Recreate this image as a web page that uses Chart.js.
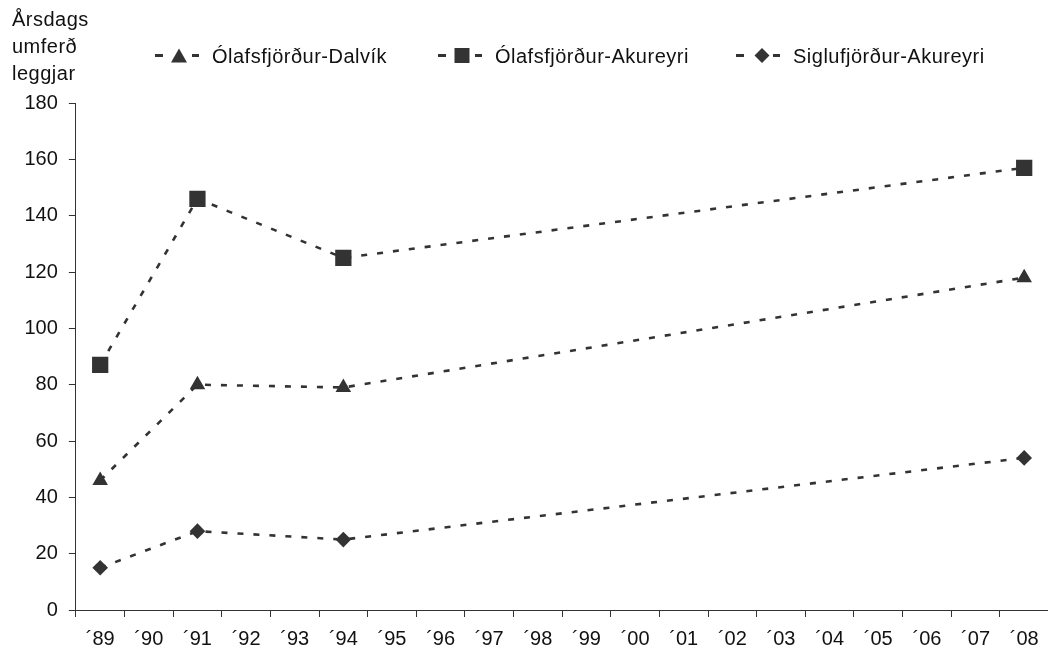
<!DOCTYPE html>
<html>
<head>
<meta charset="utf-8">
<script src="https://cdn.jsdelivr.net/npm/chart.js@4.4.1/dist/chart.umd.min.js"></script>
<style>
  html, body { margin:0; padding:0; background:#fff; overflow:hidden; width:1048px; height:650px; }
  #wrap { position:absolute; left:0; top:0; width:1060px; height:661px; }
  .txt { position:absolute; font-family:"Liberation Sans", Arial, sans-serif; font-size:20px; color:#111; letter-spacing:0.5px; white-space:nowrap; }
  #ytitle { left:12px; top:6px; line-height:27px; }
  .lg { position:absolute; top:45px; height:22px; }
  .lg svg { position:absolute; left:0; top:0; }
  .lg span { position:absolute; top:0; line-height:22px; }
</style>
</head>
<body>
<div id="wrap"><canvas id="c" width="1060" height="661"></canvas></div>
<div id="ytitle" class="txt">Årsdags<br>umferð<br>leggjar</div>
<div id="legend"></div>
<script>
const categories = ["´89","´90","´91","´92","´93","´94","´95","´96","´97","´98","´99","´00","´01","´02","´03","´04","´05","´06","´07","´08"];
const seriesNames = ["Ólafsfjörður-Dalvík","Ólafsfjörður-Akureyri","Siglufjörður-Akureyri"];
const dalvik   = [46, null, 80, null, null, 79, null,null,null,null,null,null,null,null,null,null,null,null,null, 118];
const akureyri = [87, null, 146, null, null, 125, null,null,null,null,null,null,null,null,null,null,null,null,null, 157];
const siglu    = [15, null, 28, null, null, 25, null,null,null,null,null,null,null,null,null,null,null,null,null, 54];
const yTicks = [0,20,40,60,80,100,120,140,160,180];

const markColor = '#333333';
const styles = [
  {pointStyle:'triangle', radius:9},
  {pointStyle:'rect', radius:11.5},
  {pointStyle:'rectRot', radius:7.8}
];
const seriesData = [dalvik, akureyri, siglu];

const datasets = seriesData.map((d,i)=>({
  label: seriesNames[i],
  data: d,
  spanGaps: true,
  borderColor: markColor,
  backgroundColor: markColor,
  borderWidth: 2.6,
  borderDash: [6, 10],
  pointStyle: styles[i].pointStyle,
  pointRadius: styles[i].radius,
  pointHoverRadius: styles[i].radius,
  pointBackgroundColor: markColor,
  pointBorderColor: markColor,
  pointBorderWidth: 0,
  tension: 0
}));

new Chart(document.getElementById('c'), {
  type: 'line',
  data: { labels: categories, datasets },
  options: {
    responsive: false,
    animation: false,
    events: [],
    layout: { padding: { top: 103, left: 13.5, right: 5, bottom: 0 } },
    plugins: { legend: { display: false }, tooltip: { enabled: false } },
    scales: {
      x: {
        offset: true,
        grid: { display: true, offset: true, drawOnChartArea: false, drawTicks: true, tickLength: 7, color: '#333', lineWidth: 1 },
        border: { display: true, color: '#333', width: 1 },
        ticks: { color: '#111', padding: 12, maxRotation: 0, autoSkip: false,
          font: { family: '"Liberation Sans", Arial, sans-serif', size: 20, lineHeight: 1.0 } }
      },
      y: {
        min: 0, max: 180,
        afterBuildTicks: (s) => { s.ticks = yTicks.map(v => ({ value: v })); },
        grid: { display: true, drawOnChartArea: false, drawTicks: true, tickLength: 7, color: '#333', lineWidth: 1 },
        border: { display: true, color: '#333', width: 1 },
        ticks: { color: '#111', padding: 11,
          font: { family: '"Liberation Sans", Arial, sans-serif', size: 20, lineHeight: 1.0 } }
      }
    }
  }
});

// legend (HTML)
const legendX = [155, 438, 736];
const legendHtml = seriesNames.map((name, i) => {
  let mk = '';
  if (i === 0) mk = '<polygon points="24,3.5 32,17.5 16,17.5" fill="#333"/>';
  if (i === 1) mk = '<rect x="16.5" y="3" width="15" height="15" fill="#333"/>';
  if (i === 2) mk = '<polygon points="26,3 33.5,10.5 26,18 18.5,10.5" fill="#333"/>';
  return `<div class="lg" style="left:${legendX[i]}px;width:400px">
    <svg width="46" height="22" viewBox="0 0 46 22">
      <rect x="0" y="9" width="8" height="3" fill="#333"/>${mk}<rect x="37" y="9" width="7" height="3" fill="#333"/>
    </svg><span class="txt" style="left:57px">${name}</span></div>`;
}).join('');
document.getElementById('legend').innerHTML = legendHtml;
</script>
</body>
</html>
